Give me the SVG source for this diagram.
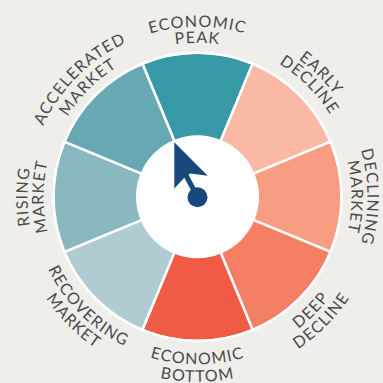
<svg xmlns="http://www.w3.org/2000/svg" xmlns:xlink="http://www.w3.org/1999/xlink" width="383" height="383" viewBox="0 0 383 383">
  <style>
    .seg { stroke: #ffffff; stroke-width: 2.5; stroke-linejoin: round; }
    .lbl { font-family: Lato, "Open Sans", "DejaVu Sans", sans-serif; font-size: 16px; fill: #4a4a4a; letter-spacing: 1.1px; }
    .ptr { fill: #164a7e; }
  </style>
  <defs>
    <!-- clockwise arcs (letters face outward) -->
    <path id="cw-top-1" d="M-170,0 A170,170 0 0,1 170,0"/>
    <path id="cw-top-2" d="M-154,0 A154,154 0 0,1 154,0"/>
    <path id="cw-tr-1" d="M-121.62,-121.62 A172,172 0 0,1 121.62,121.62"/>
    <path id="cw-tr-2" d="M-110.31,-110.31 A156,156 0 0,1 110.31,110.31"/>
    <path id="cw-r-1" d="M0,-170 A170,170 0 0,1 0,170"/>
    <path id="cw-r-2" d="M0,-154 A154,154 0 0,1 0,154"/>
    <path id="cw-l-1" d="M0,170 A170,170 0 0,1 0,-170"/>
    <path id="cw-l-2" d="M0,154 A154,154 0 0,1 0,-154"/>
    <path id="cw-tl-1" d="M-120.21,120.21 A170,170 0 0,1 120.21,-120.21"/>
    <path id="cw-tl-2" d="M-108.89,108.89 A154,154 0 0,1 108.89,-108.89"/>
    <!-- counter-clockwise arcs (letters face the centre) -->
    <path id="ccw-b-1" d="M-167.5,0 A167.5,167.5 0 0,0 167.5,0"/>
    <path id="ccw-b-2" d="M-185,0 A185,185 0 0,0 185,0"/>
    <path id="ccw-br-1" d="M-117.38,117.38 A166,166 0 0,0 117.38,-117.38"/>
    <path id="ccw-br-2" d="M-129.4,129.4 A183,183 0 0,0 129.4,-129.4"/>
    <path id="ccw-bl-1" d="M-117.38,-117.38 A166,166 0 0,0 117.38,117.38"/>
    <path id="ccw-bl-2" d="M-129.4,-129.4 A183,183 0 0,0 129.4,129.4"/>
  </defs>

  <rect width="383" height="383" fill="#efeeea"/>

  <g transform="translate(197.5,196.8)">
    <g id="economic-peak">
      <path class="seg" fill="#3799a5" d="M0,0 L-55.11,-133.04 A144,144 0 0,1 55.11,-133.04 Z"/>
      <text class="lbl"><textPath xlink:href="#cw-top-1" href="#cw-top-1" startOffset="50%" text-anchor="middle">ECONOMIC</textPath></text>
      <text class="lbl"><textPath xlink:href="#cw-top-2" href="#cw-top-2" startOffset="50%" text-anchor="middle">PEAK</textPath></text>
    </g>
    <g id="early-decline">
      <path class="seg" fill="#f9b9a4" d="M0,0 L55.11,-133.04 A144,144 0 0,1 133.04,-55.11 Z"/>
      <text class="lbl"><textPath xlink:href="#cw-tr-1" href="#cw-tr-1" startOffset="50%" text-anchor="middle">EARLY</textPath></text>
      <text class="lbl"><textPath xlink:href="#cw-tr-2" href="#cw-tr-2" startOffset="50%" text-anchor="middle">DECLINE</textPath></text>
    </g>
    <g id="declining-market">
      <path class="seg" fill="#f79e82" d="M0,0 L133.04,-55.11 A144,144 0 0,1 133.04,55.11 Z"/>
      <text class="lbl"><textPath xlink:href="#cw-r-1" href="#cw-r-1" startOffset="50%" text-anchor="middle">DECLINING</textPath></text>
      <text class="lbl"><textPath xlink:href="#cw-r-2" href="#cw-r-2" startOffset="50%" text-anchor="middle">MARKET</textPath></text>
    </g>
    <g id="deep-decline">
      <path class="seg" fill="#f47f65" d="M0,0 L133.04,55.11 A144,144 0 0,1 55.11,133.04 Z"/>
      <text class="lbl"><textPath xlink:href="#ccw-br-1" href="#ccw-br-1" startOffset="50%" text-anchor="middle">DEEP</textPath></text>
      <text class="lbl"><textPath xlink:href="#ccw-br-2" href="#ccw-br-2" startOffset="50%" text-anchor="middle">DECLINE</textPath></text>
    </g>
    <g id="economic-bottom">
      <path class="seg" fill="#ef5b45" d="M0,0 L55.11,133.04 A144,144 0 0,1 -55.11,133.04 Z"/>
      <text class="lbl"><textPath xlink:href="#ccw-b-1" href="#ccw-b-1" startOffset="50%" text-anchor="middle">ECONOMIC</textPath></text>
      <text class="lbl"><textPath xlink:href="#ccw-b-2" href="#ccw-b-2" startOffset="50%" text-anchor="middle">BOTTOM</textPath></text>
    </g>
    <g id="recovering-market">
      <path class="seg" fill="#b0ccd2" d="M0,0 L-55.11,133.04 A144,144 0 0,1 -133.04,55.11 Z"/>
      <text class="lbl"><textPath xlink:href="#ccw-bl-1" href="#ccw-bl-1" startOffset="50%" text-anchor="middle">RECOVERING</textPath></text>
      <text class="lbl"><textPath xlink:href="#ccw-bl-2" href="#ccw-bl-2" startOffset="50%" text-anchor="middle">MARKET</textPath></text>
    </g>
    <g id="rising-market">
      <path class="seg" fill="#89b8c0" d="M0,0 L-133.04,55.11 A144,144 0 0,1 -133.04,-55.11 Z"/>
      <text class="lbl"><textPath xlink:href="#cw-l-1" href="#cw-l-1" startOffset="50%" text-anchor="middle">RISING</textPath></text>
      <text class="lbl"><textPath xlink:href="#cw-l-2" href="#cw-l-2" startOffset="50%" text-anchor="middle">MARKET</textPath></text>
    </g>
    <g id="accelerated-market">
      <path class="seg" fill="#67a8b3" d="M0,0 L-133.04,-55.11 A144,144 0 0,1 -55.11,-133.04 Z"/>
      <text class="lbl"><textPath xlink:href="#cw-tl-1" href="#cw-tl-1" startOffset="50%" text-anchor="middle">ACCELERATED</textPath></text>
      <text class="lbl"><textPath xlink:href="#cw-tl-2" href="#cw-tl-2" startOffset="50%" text-anchor="middle">MARKET</textPath></text>
    </g>
    <!-- outer rim and central hub -->
    <circle r="144" fill="none" stroke="#ffffff" stroke-width="2"/>
    <circle id="hub" r="61.5" fill="#ffffff"/>
  </g>

  <!-- dial pointer -->
  <g id="pointer" class="ptr">
    <polygon points="174.3,142.3 174.3,188.5 183.6,178.6 190.2,173.6 207.7,175.7"/>
    <line x1="185.5" y1="174.5" x2="197.5" y2="197" stroke="#164a7e" stroke-width="5"/>
    <circle cx="197.5" cy="197.2" r="10"/>
  </g>
</svg>
